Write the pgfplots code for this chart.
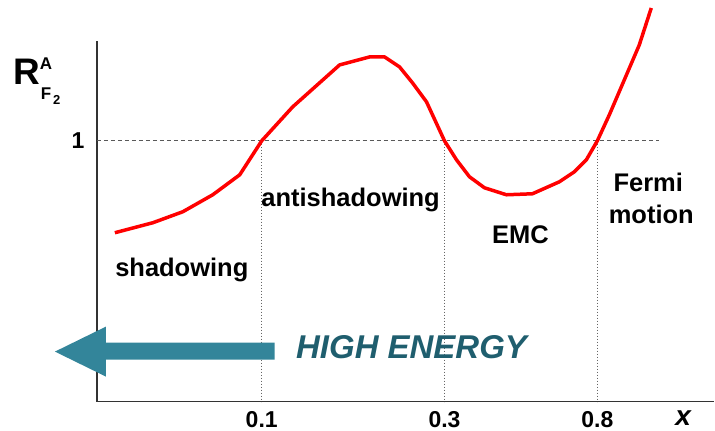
\documentclass[border=0pt]{standalone}
\usepackage{fontspec}
\setmainfont{Liberation Sans}
\usepackage{pgfplots}
\pgfplotsset{compat=1.18}
\definecolor{arrowteal}{HTML}{33859A}
\definecolor{textteal}{HTML}{1F5E6E}
\definecolor{axisgray}{HTML}{333333}
\begin{document}
\begin{tikzpicture}
\begin{axis}[
  x=1pt, y=1pt,
  xmin=97, xmax=715, ymin=26, ymax=387,
  axis x line=bottom, axis y line=left,
  axis line style={-, line width=1.6pt, axisgray},
  clip=false,
  xtick={262,445,598},
  xticklabels={\textbf{0.1},\textbf{0.3},\textbf{0.8}},
  ytick={287},
  yticklabels={\textbf{1}},
  major tick length=0pt,
  xticklabel style={font=\fontsize{23}{23}\selectfont, yshift=-6pt},
  yticklabel style={font=\fontsize{23}{23}\selectfont, xshift=-9pt},
]
% reference lines
\addplot[gray!70!black, line width=0.7pt, dash pattern=on 4pt off 3pt] coordinates {(97,287) (660,287)};
\addplot[gray!80!black, line width=0.7pt, dash pattern=on 1pt off 2pt] coordinates {(262,287) (262,26)};
\addplot[gray!80!black, line width=0.7pt, dash pattern=on 1pt off 2pt] coordinates {(445,287) (445,26)};
\addplot[gray!80!black, line width=0.7pt, dash pattern=on 1pt off 2pt] coordinates {(598,287) (598,26)};
% curve
\addplot[red, line width=3.5pt, line join=round] coordinates {
(115,195) (153,205) (183,216) (213,233) (240,253) (262,287) (293,321)
(340,363) (370,371) (385,371) (400,361) (413,345) (427,326) (445,287)
(457,268) (470,251) (485,240) (507,233) (533,234) (560,246) (575,256)
(587,268) (598,287) (610,313) (625,348) (640,383) (652,420)
};
% arrow
\fill[arrowteal] (axis cs:55,76) -- (axis cs:106,101) -- (axis cs:106,85) -- (axis cs:275,85)
  -- (axis cs:275,68) -- (axis cs:106,68) -- (axis cs:106,51) -- cycle;
\node[text=textteal, font=\fontsize{33}{33}\selectfont\bfseries\itshape] at (axis cs:412,80) {HIGH ENERGY};
% labels
\node[font=\fontsize{25.5}{25.5}\selectfont\bfseries] at (axis cs:182,158) {shadowing};
\node[font=\fontsize{25.5}{25.5}\selectfont\bfseries] at (axis cs:351,228) {antishadowing};
\node[font=\fontsize{25.5}{25.5}\selectfont\bfseries] at (axis cs:521,193) {EMC};
\node[font=\fontsize{25.5}{25.5}\selectfont\bfseries] at (axis cs:649,245) {Fermi};
\node[font=\fontsize{25.5}{25.5}\selectfont\bfseries] at (axis cs:652,213) {motion};
\node[font=\fontsize{28}{28}\selectfont\bfseries\itshape] at (axis cs:684,9) {x};
% y label
\node[anchor=base west, inner sep=0pt, font=\bfseries] at (axis cs:13,343)
  {\fontsize{37}{37}\selectfont R\rlap{\fontsize{17}{17}\selectfont\raisebox{15pt}{A}}\hspace{1pt}\raisebox{-15pt}{\fontsize{17}{17}\selectfont F\hspace{2pt}\raisebox{-5pt}{\fontsize{13}{13}\selectfont 2}}};
\path (axis cs:0,0) rectangle (axis cs:715,428);
\end{axis}
\end{tikzpicture}
\end{document}
